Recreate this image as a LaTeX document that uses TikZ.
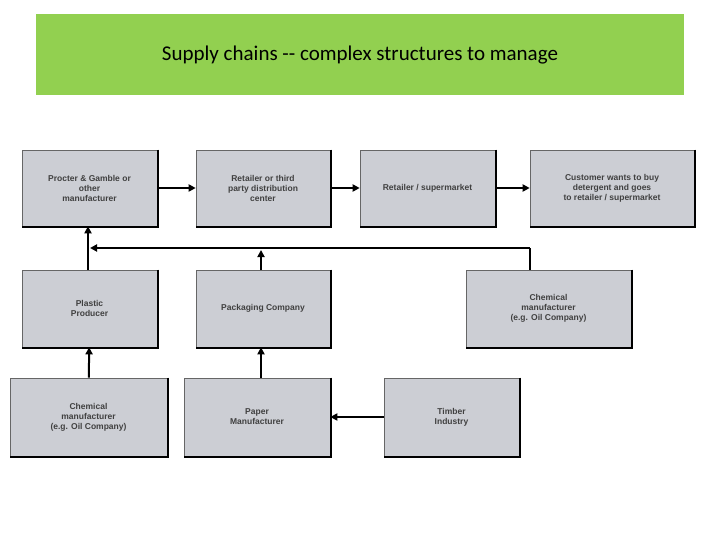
\documentclass[tikz,border=0pt]{standalone}
\usepackage{fontspec}
\setmainfont{Liberation Sans}
\newfontfamily\titlefont{Carlito}
\usetikzlibrary{arrows.meta}
\definecolor{titlegreen}{RGB}{146,208,80}
\definecolor{boxgray}{RGB}{204,206,212}
\begin{document}
\begin{tikzpicture}[x=1pt,y=-1pt,
    box/.style={draw=black!60, fill=boxgray, line width=0.6pt, align=center,
      font=\fontsize{8.5}{10}\selectfont\bfseries\color{black!75},
      inner sep=2pt},
    flow/.style={line width=2pt, -{Triangle[length=7pt,width=7pt]}}]
    \useasboundingbox (0,0) rectangle (720,540);
    \fill [titlegreen] (36,14) rectangle (684,95);
    \node [font=\titlefont\fontsize{21}{24}\selectfont] (title) at (360,55) {Supply chains -- complex structures to manage};
    % boxes: minimum width, height, centre
    \newcommand\mkbox[6]{%
      \node [box, minimum width=#2, minimum height=#3] (#1) at (#4,#5) {#6};
      \draw [line width=2pt] ([xshift=1pt]#1.north east) -- ([xshift=1pt,yshift=-1pt]#1.south east) -- ([yshift=-1pt]#1.south west);}
    \mkbox{pg}{135}{76}{89.5}{188}{Procter \& Gamble or\\other\\manufacturer}
    \mkbox{dist}{134}{76}{263}{188}{Retailer or third\\party distribution\\center}
    \mkbox{shop}{135}{76}{427.5}{188}{Retailer / supermarket}
    \mkbox{cust}{164}{76}{612}{188}{Customer wants to buy\\detergent and goes\\to retailer / supermarket}
    \mkbox{plastic}{135}{77}{89.5}{308.5}{Plastic\\Producer}
    \mkbox{pack}{134}{77}{263}{308.5}{Packaging Company}
    \mkbox{chemA}{165}{77}{548.5}{308.5}{Chemical\\manufacturer\\(e.g. Oil Company)}
    \mkbox{chemB}{157}{78}{88.5}{417}{Chemical\\manufacturer\\(e.g. Oil Company)}
    \mkbox{paper}{146}{78}{257}{417}{Paper\\Manufacturer}
    \mkbox{timber}{135}{78}{451.5}{417}{Timber\\Industry}
    \coordinate (bus) at (88,248);
    \draw [flow] (pg) -- (dist);
    \draw [flow] (dist) -- (shop);
    \draw [flow] (shop) -- (cust);
    \draw [flow] (plastic.north -| bus) -- (pg.south -| bus);
    \draw [line width=2pt] (chemA.north -| 530,0) -- (530,248);
    \draw [flow, -{Triangle[length=7pt,width=7pt]}] (530,248) -- ([xshift=2pt]bus);
    \draw [flow] (pack.north -| 261,0) -- (261,250);
    \draw [flow] (chemB) -- (plastic);
    \draw [flow] (paper.north -| 261,0) -- (pack.south -| 261,0);
    \draw [flow] (timber) -- (paper);
\end{tikzpicture}
\end{document}
